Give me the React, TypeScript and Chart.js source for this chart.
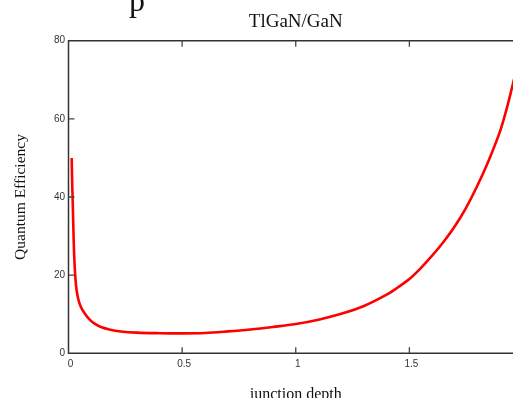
import React, { useEffect, useRef } from "react";
import { Chart, registerables } from "chart.js";

Chart.register(...registerables);

const chartTitle = "TlGaN/GaN";
const xAxisTitle = "junction depth";
const yAxisTitle = "Quantum Efficiency";
const headingFragment = "p";

const junctionDepth = [
  0.014, 0.016, 0.018, 0.021, 0.025, 0.03, 0.036, 0.045, 0.055, 0.07, 0.09,
  0.11, 0.14, 0.18, 0.23, 0.3, 0.4, 0.5, 0.6, 0.7, 0.8, 0.9, 1.0, 1.1, 1.2,
  1.3, 1.4, 1.45, 1.5, 1.55, 1.6, 1.65, 1.7, 1.75, 1.8, 1.85, 1.9, 1.93, 1.96, 1.98,
];
const quantumEfficiency = [
  50, 44, 40, 33, 25, 19.5, 16, 13.4, 11.8, 10.3, 8.8,
  7.8, 6.8, 6.1, 5.6, 5.3, 5.15, 5.1, 5.2, 5.6, 6.1, 6.75, 7.5, 8.6, 10.1,
  12.1, 15.0, 16.9, 19.0, 21.8, 25.0, 28.5, 32.5, 37.3, 43.0, 49.5, 57.0, 63.0, 70.0, 75.0,
];

const xMin = 0;
const xMax = 2;
const xStep = 0.5;
const yMin = 0;
const yMax = 80;
const yStep = 20;

const axisPlugin = {
  id: "inwardAxes",
  afterDraw(chart: any) {
    const { ctx, chartArea, scales } = chart;
    const { left, right, top, bottom } = chartArea;
    const x = scales.x;
    const y = scales.y;
    ctx.save();
    ctx.strokeStyle = "#333333";
    ctx.lineWidth = 1.5;
    ctx.beginPath();
    ctx.moveTo(left, top);
    ctx.lineTo(right, top);
    ctx.lineTo(right, bottom);
    ctx.lineTo(left, bottom);
    ctx.closePath();
    ctx.stroke();
    ctx.lineWidth = 1.3;
    ctx.strokeStyle = "#444444";
    ctx.beginPath();
    x.ticks.forEach((t: any) => {
      if (t.value <= xMin || t.value >= xMax) return;
      const px = x.getPixelForValue(t.value);
      ctx.moveTo(px, bottom);
      ctx.lineTo(px, bottom - 6);
      ctx.moveTo(px, top);
      ctx.lineTo(px, top + 6);
    });
    y.ticks.forEach((t: any) => {
      if (t.value <= yMin || t.value >= yMax) return;
      const py = y.getPixelForValue(t.value);
      ctx.moveTo(left, py);
      ctx.lineTo(left + 6, py);
      ctx.moveTo(right, py);
      ctx.lineTo(right - 6, py);
    });
    ctx.stroke();
    ctx.restore();
  },
};

export default function App() {
  const canvasRef = useRef<HTMLCanvasElement | null>(null);

  useEffect(() => {
    if (!canvasRef.current) return;
    const points = junctionDepth.map((d, i) => ({ x: d, y: quantumEfficiency[i] }));
    const chart = new Chart(canvasRef.current, {
      type: "line",
      data: {
        datasets: [
          {
            data: points,
            borderColor: "#ff0000",
            borderWidth: 2.6,
            pointRadius: 0,
            fill: false,
            tension: 0.35,
          },
        ],
      },
      options: {
        responsive: false,
        animation: false,
        devicePixelRatio: 1,
        layout: { padding: { left: 0, top: 0, right: 67, bottom: 0 } },
        plugins: {
          legend: { display: false },
          tooltip: { enabled: false },
          title: {
            display: true,
            fullSize: false,
            text: chartTitle,
            color: "#111111",
            font: { family: "'Liberation Serif', serif", size: 19, weight: "normal" },
            padding: { top: 10.2, bottom: 7.7 },
          },
        },
        scales: {
          x: {
            type: "linear",
            min: xMin,
            max: xMax,
            grid: { display: false, drawTicks: false },
            border: { display: false },
            ticks: {
              stepSize: xStep,
              maxRotation: 0,
              autoSkip: false,
              padding: 4.8,
              labelOffset: 2,
              color: "#333333",
              font: { family: "'Liberation Sans', Arial, sans-serif", size: 10 },
              callback: (v: any) => String(v),
            },
            title: {
              display: true,
              text: xAxisTitle,
              color: "#111111",
              font: { family: "'Liberation Serif', serif", size: 16, weight: "normal" },
              padding: { top: 0, bottom: 7.8 },
            },
            afterFit: (s: any) => {
              s.height = 58.7;
            },
          },
          y: {
            type: "linear",
            min: yMin,
            max: yMax,
            grid: { display: false, drawTicks: false },
            border: { display: false },
            ticks: {
              stepSize: yStep,
              padding: 3.5,
              color: "#333333",
              font: { family: "'Liberation Sans', Arial, sans-serif", size: 10 },
              callback: (v: any) => String(v),
            },
            title: {
              display: true,
              text: yAxisTitle,
              color: "#111111",
              font: { family: "'Liberation Serif', serif", size: 15.5, weight: "normal" },
              padding: { top: 11.6, bottom: 0 },
            },
            afterFit: (s: any) => {
              s.width = 68.5;
            },
          },
        },
      },
      plugins: [axisPlugin],
    });
    return () => chart.destroy();
  }, []);

  return (
    <div
      style={{
        position: "fixed",
        left: 0,
        top: 0,
        width: 513,
        height: 398,
        overflow: "hidden",
        background: "#ffffff",
      }}
    >
      <canvas
        ref={canvasRef}
        width={590}
        height={412}
        style={{ display: "block", width: 590, height: 412 }}
      />
      <div
        style={{
          position: "absolute",
          left: 129,
          top: -18,
          fontFamily: "'Liberation Serif', serif",
          fontSize: 32,
          color: "#111111",
        }}
      >
        {headingFragment}
      </div>
    </div>
  );
}
